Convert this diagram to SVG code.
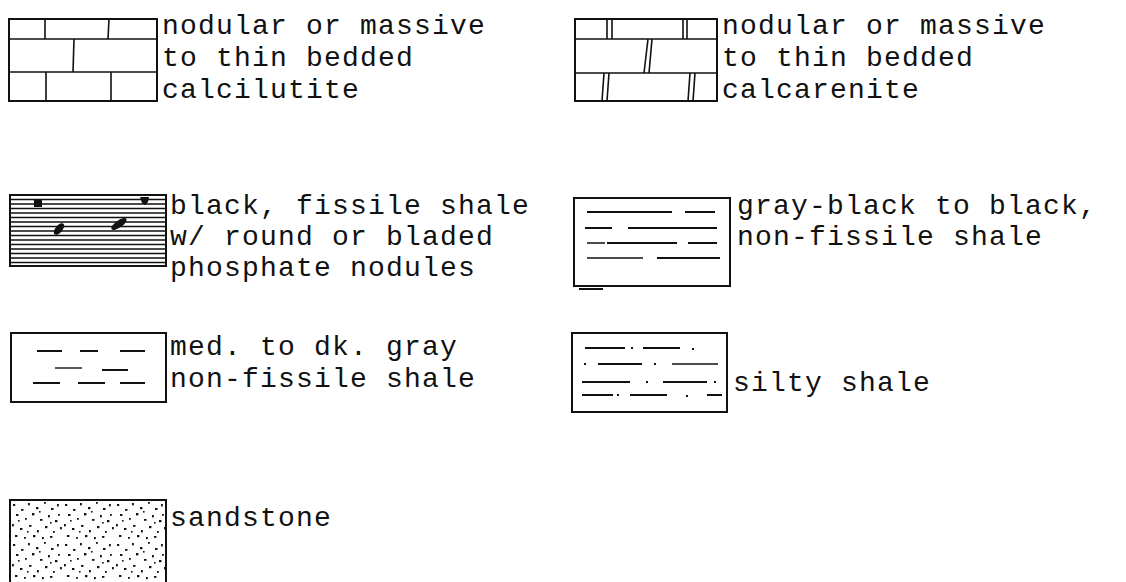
<svg xmlns="http://www.w3.org/2000/svg" width="1126" height="582" viewBox="0 0 1126 582">
<defs>
<style>
.t{font-family:"Liberation Mono","DejaVu Sans Mono",monospace;font-size:28px;letter-spacing:1.2px;fill:#111}
.b{fill:none;stroke:#111;stroke-width:2}
.p{stroke:#111;stroke-width:1.6;fill:none}
.d{stroke:#111;stroke-width:1.8;fill:none}
.thin{stroke:#111;stroke-width:1.4;fill:none}
</style>
<pattern id="sand" x="10" y="500" width="52" height="40" patternUnits="userSpaceOnUse">
<g fill="#111">
<rect x="3" y="4" width="2.2" height="2"/><rect x="11" y="9" width="2.5" height="1.8"/><rect x="18" y="3" width="1.8" height="2.4"/>
<rect x="26" y="7" width="2.4" height="2.2"/><rect x="34" y="2" width="1.8" height="1.8"/><rect x="41" y="8" width="2.5" height="2"/>
<rect x="47" y="4" width="1.8" height="2.4"/><rect x="6" y="14" width="2.4" height="2"/><rect x="15" y="18" width="1.8" height="1.8"/>
<rect x="22" y="13" width="2.4" height="2.4"/><rect x="30" y="19" width="2.5" height="1.8"/><rect x="38" y="15" width="1.8" height="2.4"/>
<rect x="45" y="20" width="2.4" height="2.2"/><rect x="2" y="24" width="1.8" height="2.4"/><rect x="10" y="28" width="2.4" height="2"/>
<rect x="19" y="25" width="2.5" height="1.8"/><rect x="27" y="30" width="1.8" height="2.4"/><rect x="35" y="26" width="2.4" height="2.2"/>
<rect x="43" y="31" width="1.8" height="1.8"/><rect x="50" y="27" width="1.8" height="2.4"/><rect x="5" y="35" width="2.4" height="2"/>
<rect x="14" y="37" width="1.8" height="1.8"/><rect x="23" y="35" width="2.4" height="2.2"/><rect x="32" y="37" width="1.8" height="2.2"/>
<rect x="40" y="36" width="2.4" height="1.8"/><rect x="48" y="14" width="1.8" height="1.8"/><rect x="29" y="11" width="1.6" height="1.6"/>
<rect x="8" y="20" width="1.6" height="1.6"/><rect x="40" y="22" width="1.6" height="1.6"/><rect x="17" y="31" width="1.6" height="1.6"/>
</g>
</pattern>
</defs>
<rect width="1126" height="582" fill="#fff"/>

<g id="calcilutite">
<rect class="b" x="9" y="19" width="148" height="82"/>
<path class="p" d="M9 39H157M9 72H157M45 19V39M109 19L108 39M74 39L73 72M46 72V101M111 72V101"/>
<text class="t" x="162" y="34">nodular or massive</text>
<text class="t" x="162" y="66">to thin bedded</text>
<text class="t" x="162" y="98">calcilutite</text>
</g>

<g id="calcarenite">
<rect class="b" x="575" y="19" width="142" height="82"/>
<path class="p" d="M575 39H717M575 73H717M607 19V39M612 19V39M683 19V39M687 19V39M648 39L644 73M652 39L649 73M604 73L602 101M609 73L607 101M690 73L688 101M695 73L693 101"/>
<text class="t" x="722" y="34">nodular or massive</text>
<text class="t" x="722" y="66">to thin bedded</text>
<text class="t" x="722" y="98">calcarenite</text>
</g>

<g id="black-shale">
<rect class="b" x="10" y="195" width="156" height="71"/>
<path class="p" d="M10 199.5H166M10 204H166M10 208.5H166M10 213H166M10 217.5H166M10 222H166M10 226.5H166M10 231H166M10 235.5H166M10 240H166M10 244.5H166M10 249H166M10 253.5H166M10 258H166M10 262.5H166"/>
<rect x="34" y="200" width="8" height="7" fill="#111"/>
<path d="M140 197h9l-1 5-3 3-3-2z" fill="#111"/>
<ellipse cx="59" cy="229" rx="7" ry="3.5" transform="rotate(-50 59 229)" fill="#111"/>
<ellipse cx="119" cy="224" rx="9" ry="3.5" transform="rotate(-35 119 224)" fill="#111"/>
<text class="t" x="170" y="214">black, fissile shale</text>
<text class="t" x="170" y="245">w/ round or bladed</text>
<text class="t" x="170" y="276">phosphate nodules</text>
</g>

<g id="gray-black-shale">
<rect class="b" x="574" y="198" width="156" height="88"/>
<path class="d" d="M587 212H672M685 212H715M585 228H612M628 228H717M607 243H677M688 243H717M657 258H720M579 289H603"/>
<path class="thin" d="M587 243H605M587 258H643"/>
<text class="t" x="737" y="214">gray-black to black,</text>
<text class="t" x="737" y="245">non-fissile shale</text>
</g>

<g id="med-gray-shale">
<rect class="b" x="11" y="333" width="155" height="69"/>
<path class="d" d="M37 351H62M80 351H98M120 351H145M33 383H60M78 383H105M120 383H145M102 370H128"/>
<path class="thin" d="M55 368H82"/>
<text class="t" x="170" y="355">med. to dk. gray</text>
<text class="t" x="170" y="387">non-fissile shale</text>
</g>

<g id="silty-shale">
<rect class="b" x="572" y="333" width="155" height="79"/>
<path class="d" d="M585 348H625M643 348H680M598 364H642M582 382H630M663 382H707M582 395H613M630 395H667M707 395H722"/>
<path class="thin" d="M672 364H718"/>
<g fill="#111">
<rect x="631" y="347" width="2" height="2"/><rect x="692" y="348" width="2" height="2"/>
<rect x="584" y="363" width="2" height="2"/><rect x="654" y="363" width="2" height="2"/>
<rect x="646" y="381" width="2" height="2"/><rect x="714" y="381" width="2" height="2"/>
<rect x="617" y="394" width="2" height="2"/><rect x="686" y="395" width="2" height="2"/>
</g>
<text class="t" x="733" y="391">silty shale</text>
</g>

<g id="sandstone">
<rect x="10" y="500" width="156" height="84" fill="url(#sand)"/>
<path class="b" d="M10 590V500H166V590"/>
<text class="t" x="170" y="526">sandstone</text>
</g>

<g id="connectors"></g>
</svg>
